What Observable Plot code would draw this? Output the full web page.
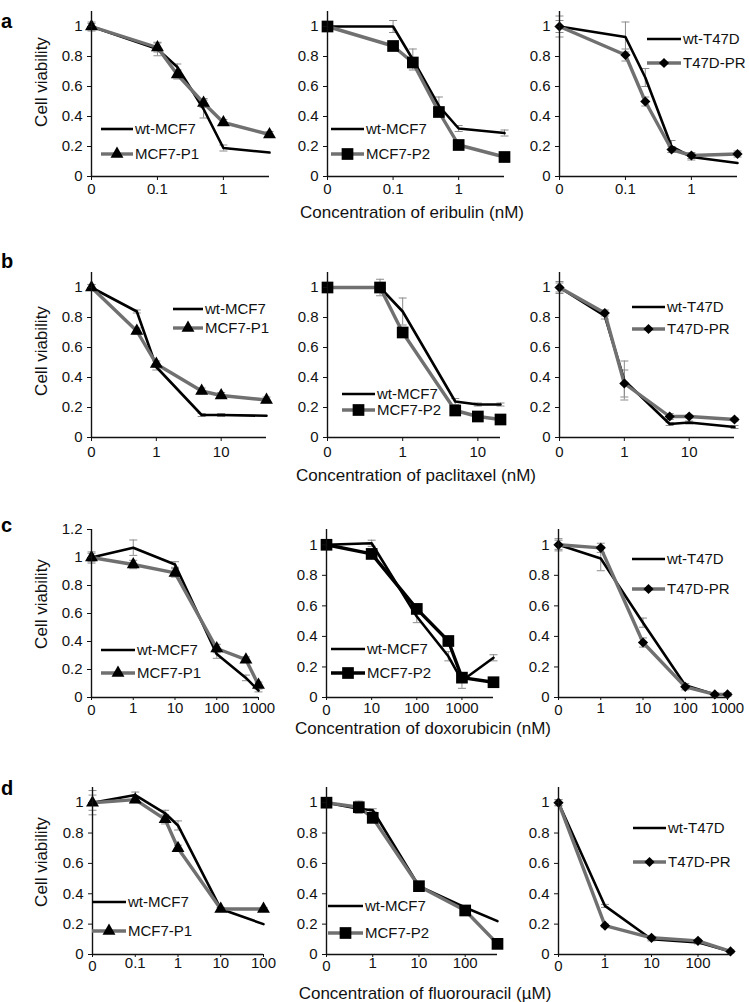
<!DOCTYPE html>
<html><head><meta charset="utf-8">
<script src="https://cdn.jsdelivr.net/npm/d3@7"></script>
<script src="https://cdn.jsdelivr.net/npm/@observablehq/plot@0.6"></script>
<style>
body{margin:0;background:#fff;}
#fig{position:relative;width:749px;height:1002px;overflow:hidden;background:#fff;font-family:"Liberation Sans",Arial,sans-serif;}
#fig svg.panel{position:absolute;}
#overlay{position:absolute;left:0;top:0;pointer-events:none;}
</style></head><body><div id="fig"></div>
<script>
// ---------- DATA ----------
const eribulinConc = [0, 0.1, 0.2, 0.5, 1, 5];
const eribulinTicks = [0, 0.1, 1];
const a1_wt = [1.00, 0.85, 0.73, 0.45, 0.19, 0.16];
const a1_res = [1.00, 0.86, 0.68, 0.49, 0.36, 0.28];
const a1_wtErr = [0.03, 0.045, 0.02, 0.06, 0.02, 0];
const a1_resErr = [0.02, 0.03, 0.03, 0.03, 0.02, 0.02];
const a2_wt = [1.00, 1.00, 0.78, 0.47, 0.32, 0.29];
const a2_res = [1.00, 0.87, 0.76, 0.43, 0.21, 0.13];
const a2_wtErr = [0.03, 0.04, 0.07, 0.06, 0.02, 0.02];
const a2_resErr = [0.03, 0.02, 0.03, 0.03, 0.02, 0.02];
const a3_wt = [1.00, 0.93, 0.66, 0.20, 0.13, 0.09];
const a3_res = [1.00, 0.81, 0.50, 0.18, 0.14, 0.15];
const a3_wtErr = [0.07, 0.10, 0.06, 0.04, 0.02, 0];
const a3_resErr = [0.04, 0.04, 0.03, 0.02, 0.02, 0.02];

const paclitaxelConc = [0, 0.5, 1, 5, 10, 50];
const paclitaxelConc2 = [0, 0.5, 1, 5, 10, 20];
const paclitaxelTicks = [0, 1, 10];
const b1_wt = [1.00, 0.84, 0.47, 0.15, 0.15, 0.145];
const b1_res = [1.00, 0.71, 0.49, 0.31, 0.28, 0.25];
const b1_wtErr = [0.02, 0.01, 0.02, 0.01, 0.01, 0];
const b1_resErr = [0.02, 0.02, 0.02, 0.02, 0.02, 0.02];
const b2_wt = [1.00, 1.00, 0.84, 0.24, 0.22, 0.22];
const b2_res = [1.00, 1.00, 0.70, 0.18, 0.14, 0.12];
const b2_wtErr = [0.02, 0.055, 0.09, 0.02, 0.01, 0.01];
const b2_resErr = [0.02, 0.02, 0.03, 0.02, 0.02, 0.02];
const b3_wt = [1.00, 0.81, 0.38, 0.09, 0.10, 0.07];
const b3_res = [1.00, 0.83, 0.36, 0.14, 0.14, 0.12];
const b3_wtErr = [0.04, 0.02, 0.13, 0.01, 0.01, 0.01];
const b3_resErr = [0.03, 0.02, 0.09, 0.02, 0.01, 0.01];

const doxorubicinConc = [0, 1, 10, 100, 500, 1000];
const doxorubicinConc2 = [0, 10, 100, 500, 1000, 5000];
const doxorubicinTicks = [0, 1, 10, 100, 1000];
const doxorubicinTicks2 = [0, 10, 100, 1000];
const c1_wt = [1.00, 1.07, 0.95, 0.31, 0.14, 0.05];
const c1_res = [1.00, 0.95, 0.89, 0.35, 0.27, 0.09];
const c1_wtErr = [0.04, 0.055, 0.02, 0.03, 0.02, 0.01];
const c1_resErr = [0.03, 0.03, 0.03, 0.03, 0.02, 0.02];
const c2_wt = [1.00, 1.01, 0.53, 0.27, 0.11, 0.26];
const c2_res = [1.00, 0.94, 0.58, 0.37, 0.13, 0.10];
const c2_wtErr = [0.02, 0.02, 0.04, 0.03, 0.05, 0.02];
const c2_resErr = [0.02, 0.02, 0.03, 0.03, 0.03, 0.01];
const c3_wt = [1.00, 0.91, 0.49, 0.08, 0.02, 0.02];
const c3_res = [1.00, 0.98, 0.36, 0.07, 0.02, 0.02];
const c3_wtErr = [0.03, 0.08, 0.03, 0.01, 0.01, 0.01];
const c3_resErr = [0.04, 0.03, 0.03, 0.02, 0.01, 0.01];

const fluorouracilConc = [0, 0.1, 0.5, 1, 10, 100];
const fluorouracilConc2 = [0, 0.5, 1, 10, 100, 500];
const fluorouracilConc3 = [0, 1, 10, 100, 500];
const fluorouracilTicks = [0, 0.1, 1, 10, 100];
const fluorouracilTicks2 = [0, 1, 10, 100];
const d1_wt = [1.00, 1.05, 0.93, 0.85, 0.30, 0.20];
const d1_res = [1.00, 1.02, 0.89, 0.70, 0.30, 0.30];
const d1_wtErr = [0.08, 0.02, 0.02, 0.03, 0.01, 0];
const d1_resErr = [0.05, 0.02, 0.03, 0.02, 0.01, 0.01];
const d2_wt = [1.00, 0.96, 0.95, 0.45, 0.31, 0.22];
const d2_res = [1.00, 0.97, 0.90, 0.45, 0.29, 0.07];
const d2_wtErr = [0.02, 0.02, 0.01, 0.01, 0.01, 0];
const d2_resErr = [0.02, 0.04, 0.02, 0.02, 0.02, 0.01];
const d3_wt = [1.00, 0.32, 0.10, 0.08, 0.02];
const d3_res = [1.00, 0.19, 0.11, 0.09, 0.02];
const d3_wtErr = [0.02, 0.01, 0.01, 0.01, 0];
const d3_resErr = [0.02, 0.01, 0.01, 0.01, 0.01];

const yTicks11 = [0, 0.2, 0.4, 0.6, 0.8, 1];
const yTicks12 = [0, 0.2, 0.4, 0.6, 0.8, 1, 1.2];

const rowLetters = ["a", "b", "c", "d"];
const xTitles = ["Concentration of eribulin (nM)", "Concentration of paclitaxel (nM)",
                 "Concentration of doxorubicin (nM)", "Concentration of fluorouracil (\u00b5M)"];
const yTitle = "Cell viability";
const mcfNames1 = ["wt-MCF7", "MCF7-P1"];
const mcfNames2 = ["wt-MCF7", "MCF7-P2"];
const t47Names = ["wt-T47D", "T47D-PR"];

// ---------- DRAWING ----------
const FONT = '"Liberation Sans", Arial, sans-serif';
const GRAY = "#707070";
const ERR = "#8c8c8c";
const fig = document.getElementById("fig");
const capSymbol = {draw(ctx) { ctx.moveTo(-4, 0); ctx.lineTo(4, 0); }};
const symbolR = {triangle: 4.8, square: 6.6, diamond2: 4.6};
// per-row x tick layout: [tickSize, tickPadding, extra padding of the "0" label]
const rowTick = [[4, 2.5, 0], [4, 5, 0], [3, 1.5, 2], [3, 0, 3]];

function panel(cfg) {
  const {conc, wt, res, wtErr, resErr, zero, xTicks, yMax, yTicks, frame, symbol, resColor, row} = cfg;
  const [x0, x1, yTop, yBot] = frame;
  const [tS, tP, zDrop] = rowTick[row];
  const pos = c => (c === 0 ? zero : c);
  const rows = conc.map((c, i) => ({x: pos(c), wt: wt[i], res: res[i]}));
  const bars = [];
  conc.forEach((c, i) => {
    if (wtErr[i] > 0) bars.push({x: pos(c), lo: wt[i] - wtErr[i], hi: wt[i] + wtErr[i]});
    if (resErr[i] > 0) bars.push({x: pos(c), lo: res[i] - resErr[i], hi: res[i] + resErr[i]});
  });
  const caps = bars.flatMap(b => [{x: b.x, y: b.lo}, {x: b.x, y: b.hi}]);
  const xMax = pos(conc[conc.length - 1]);
  const mL = 50, mR = 24, mT = 6, mB = 30;
  const plot = Plot.plot({
    width: x1 - x0 + mL + mR,
    height: yBot - yTop + mT + mB,
    marginLeft: mL, marginRight: mR, marginTop: mT, marginBottom: mB,
    style: {background: "transparent", overflow: "visible", fontFamily: FONT, fontSize: "15px", color: "#111"},
    x: {type: "log", domain: [zero, xMax]},
    y: {domain: [0, yMax]},
    marks: [
      Plot.ruleX(bars, {x: "x", y1: "lo", y2: "hi", stroke: ERR, strokeWidth: 1}),
      Plot.dot(caps, {x: "x", y: "y", symbol: capSymbol, fill: "none", stroke: ERR, strokeWidth: 1}),
      Plot.line(rows, {x: "x", y: "wt", stroke: "#000", strokeWidth: 2.6}),
      Plot.line(rows, {x: "x", y: "res", stroke: resColor, strokeWidth: 3.4}),
      Plot.dot(rows, {x: "x", y: "res", symbol, r: symbolR[symbol], fill: "#000", stroke: "none"}),
      Plot.ruleY([0], {stroke: "#111", strokeWidth: 1.4}),
      Plot.ruleX([zero], {stroke: "#111", strokeWidth: 1.4}),
      Plot.axisX({ticks: [zero], tickFormat: () => "0", tickSize: tS, tickPadding: tP + zDrop, label: null}),
      Plot.axisX({ticks: xTicks.filter(t => t !== 0), tickFormat: d => String(d),
                  tickSize: tS, tickPadding: tP, label: null}),
      Plot.axisY({ticks: yTicks, tickFormat: d => String(d), tickSize: 4, tickPadding: 5, label: null})
    ]
  });
  plot.classList.add("panel");
  plot.style.left = (x0 - mL) + "px";
  plot.style.top = (yTop - mT) + "px";
  fig.appendChild(plot);
}

const panels = [
  {row: 0, conc: eribulinConc, wt: a1_wt, res: a1_res, wtErr: a1_wtErr, resErr: a1_resErr, zero: 0.01, xTicks: eribulinTicks, yMax: 1.1, yTicks: yTicks11, frame: [91, 269, 11, 176], symbol: "triangle", resColor: GRAY, names: mcfNames1, leg: [101, 133, 129, 154]},
  {row: 0, conc: eribulinConc, wt: a2_wt, res: a2_res, wtErr: a2_wtErr, resErr: a2_resErr, zero: 0.01, xTicks: eribulinTicks, yMax: 1.1, yTicks: yTicks11, frame: [327, 504, 11, 176], symbol: "square", resColor: GRAY, names: mcfNames2, leg: [331, 364, 129, 154]},
  {row: 0, conc: eribulinConc, wt: a3_wt, res: a3_res, wtErr: a3_wtErr, resErr: a3_resErr, zero: 0.01, xTicks: eribulinTicks, yMax: 1.1, yTicks: yTicks11, frame: [559, 737, 11, 176], symbol: "diamond2", resColor: GRAY, names: t47Names, leg: [647, 681, 39, 63]},
  {row: 1, conc: paclitaxelConc, wt: b1_wt, res: b1_res, wtErr: b1_wtErr, resErr: b1_resErr, zero: 0.1, xTicks: paclitaxelTicks, yMax: 1.1, yTicks: yTicks11, frame: [91, 266, 272, 437], symbol: "triangle", resColor: GRAY, names: mcfNames1, leg: [173, 203, 309, 328]},
  {row: 1, conc: paclitaxelConc2, wt: b2_wt, res: b2_res, wtErr: b2_wtErr, resErr: b2_resErr, zero: 0.1, xTicks: paclitaxelTicks, yMax: 1.1, yTicks: yTicks11, frame: [327, 500, 272, 437], symbol: "square", resColor: GRAY, names: mcfNames2, leg: [342, 375, 394, 410]},
  {row: 1, conc: paclitaxelConc, wt: b3_wt, res: b3_res, wtErr: b3_wtErr, resErr: b3_resErr, zero: 0.1, xTicks: paclitaxelTicks, yMax: 1.1, yTicks: yTicks11, frame: [559, 734, 272, 437], symbol: "diamond2", resColor: GRAY, names: t47Names, leg: [632, 665, 307, 329]},
  {row: 2, conc: doxorubicinConc, wt: c1_wt, res: c1_res, wtErr: c1_wtErr, resErr: c1_resErr, zero: 0.1, xTicks: doxorubicinTicks, yMax: 1.2, yTicks: yTicks12, frame: [91, 258, 529, 697], symbol: "triangle", resColor: GRAY, names: mcfNames1, leg: [101, 135, 650, 673]},
  {row: 2, conc: doxorubicinConc2, wt: c2_wt, res: c2_res, wtErr: c2_wtErr, resErr: c2_resErr, zero: 1, xTicks: doxorubicinTicks2, yMax: 1.1, yTicks: yTicks11, frame: [326, 493, 529, 697], symbol: "square", resColor: "#000", names: mcfNames2, leg: [331, 365, 649, 673]},
  {row: 2, conc: doxorubicinConc, wt: c3_wt, res: c3_res, wtErr: c3_wtErr, resErr: c3_resErr, zero: 0.1, xTicks: doxorubicinTicks, yMax: 1.1, yTicks: yTicks11, frame: [558, 727, 529, 697], symbol: "diamond2", resColor: GRAY, names: t47Names, leg: [632, 665, 559, 589]},
  {row: 3, conc: fluorouracilConc, wt: d1_wt, res: d1_res, wtErr: d1_wtErr, resErr: d1_resErr, zero: 0.01, xTicks: fluorouracilTicks, yMax: 1.1, yTicks: yTicks11, frame: [92, 263, 787, 954], symbol: "triangle", resColor: GRAY, names: mcfNames1, leg: [92, 126, 902, 931]},
  {row: 3, conc: fluorouracilConc2, wt: d2_wt, res: d2_res, wtErr: d2_wtErr, resErr: d2_resErr, zero: 0.1, xTicks: fluorouracilTicks2, yMax: 1.1, yTicks: yTicks11, frame: [326, 497, 787, 954], symbol: "square", resColor: GRAY, names: mcfNames2, leg: [328, 363, 906, 933]},
  {row: 3, conc: fluorouracilConc3, wt: d3_wt, res: d3_res, wtErr: d3_wtErr, resErr: d3_resErr, zero: 0.1, xTicks: fluorouracilTicks2, yMax: 1.1, yTicks: yTicks11, frame: [558, 730, 787, 954], symbol: "diamond2", resColor: GRAY, names: t47Names, leg: [633, 666, 828, 862]}
];
panels.forEach(panel);

// ---------- OVERLAY: legends, titles, letters ----------
const svg = d3.select(fig).append("svg").attr("id", "overlay")
  .attr("width", 749).attr("height", 1002).style("font-family", FONT);
const d3sym = {triangle: d3.symbolTriangle, square: d3.symbolSquare, diamond2: d3.symbolDiamond2};
panels.forEach(p => {
  const [lx0, lx1, ly1, ly2] = p.leg;
  const g = svg.append("g");
  g.append("line").attr("x1", lx0).attr("x2", lx1).attr("y1", ly1).attr("y2", ly1)
    .attr("stroke", "#000").attr("stroke-width", 2.6);
  g.append("line").attr("x1", lx0).attr("x2", lx1).attr("y1", ly2).attr("y2", ly2)
    .attr("stroke", p.resColor).attr("stroke-width", 3.4);
  const r = symbolR[p.symbol];
  g.append("path").attr("d", d3.symbol(d3sym[p.symbol], Math.PI * r * r)())
    .attr("transform", `translate(${(lx0 + lx1) / 2},${ly2})`).attr("fill", "#000");
  g.append("text").attr("x", lx1 + 2).attr("y", ly1).attr("dy", "0.35em")
    .attr("font-size", 15).attr("fill", "#111").text(p.names[0]);
  g.append("text").attr("x", lx1 + 2).attr("y", ly2).attr("dy", "0.35em")
    .attr("font-size", 15).attr("fill", "#111").text(p.names[1]);
});
const letterY = [28, 268, 532, 795];
const yLabelCenter = [82, 351, 604, 862];
const xTitlePos = [[412, 212], [416, 475], [423, 728], [425, 993]];
rowLetters.forEach((L, i) => {
  svg.append("text").attr("x", 1).attr("y", letterY[i]).attr("font-size", 20)
    .attr("font-weight", "bold").attr("fill", "#000").text(L);
  svg.append("text").attr("transform", `translate(41,${yLabelCenter[i]}) rotate(-90)`)
    .attr("text-anchor", "middle").attr("dy", "0.35em").attr("font-size", 17).attr("fill", "#111").text(yTitle);
  svg.append("text").attr("x", xTitlePos[i][0]).attr("y", xTitlePos[i][1]).attr("dy", "0.35em")
    .attr("text-anchor", "middle").attr("font-size", 17).attr("fill", "#111").text(xTitles[i]);
});
</script></body></html>
